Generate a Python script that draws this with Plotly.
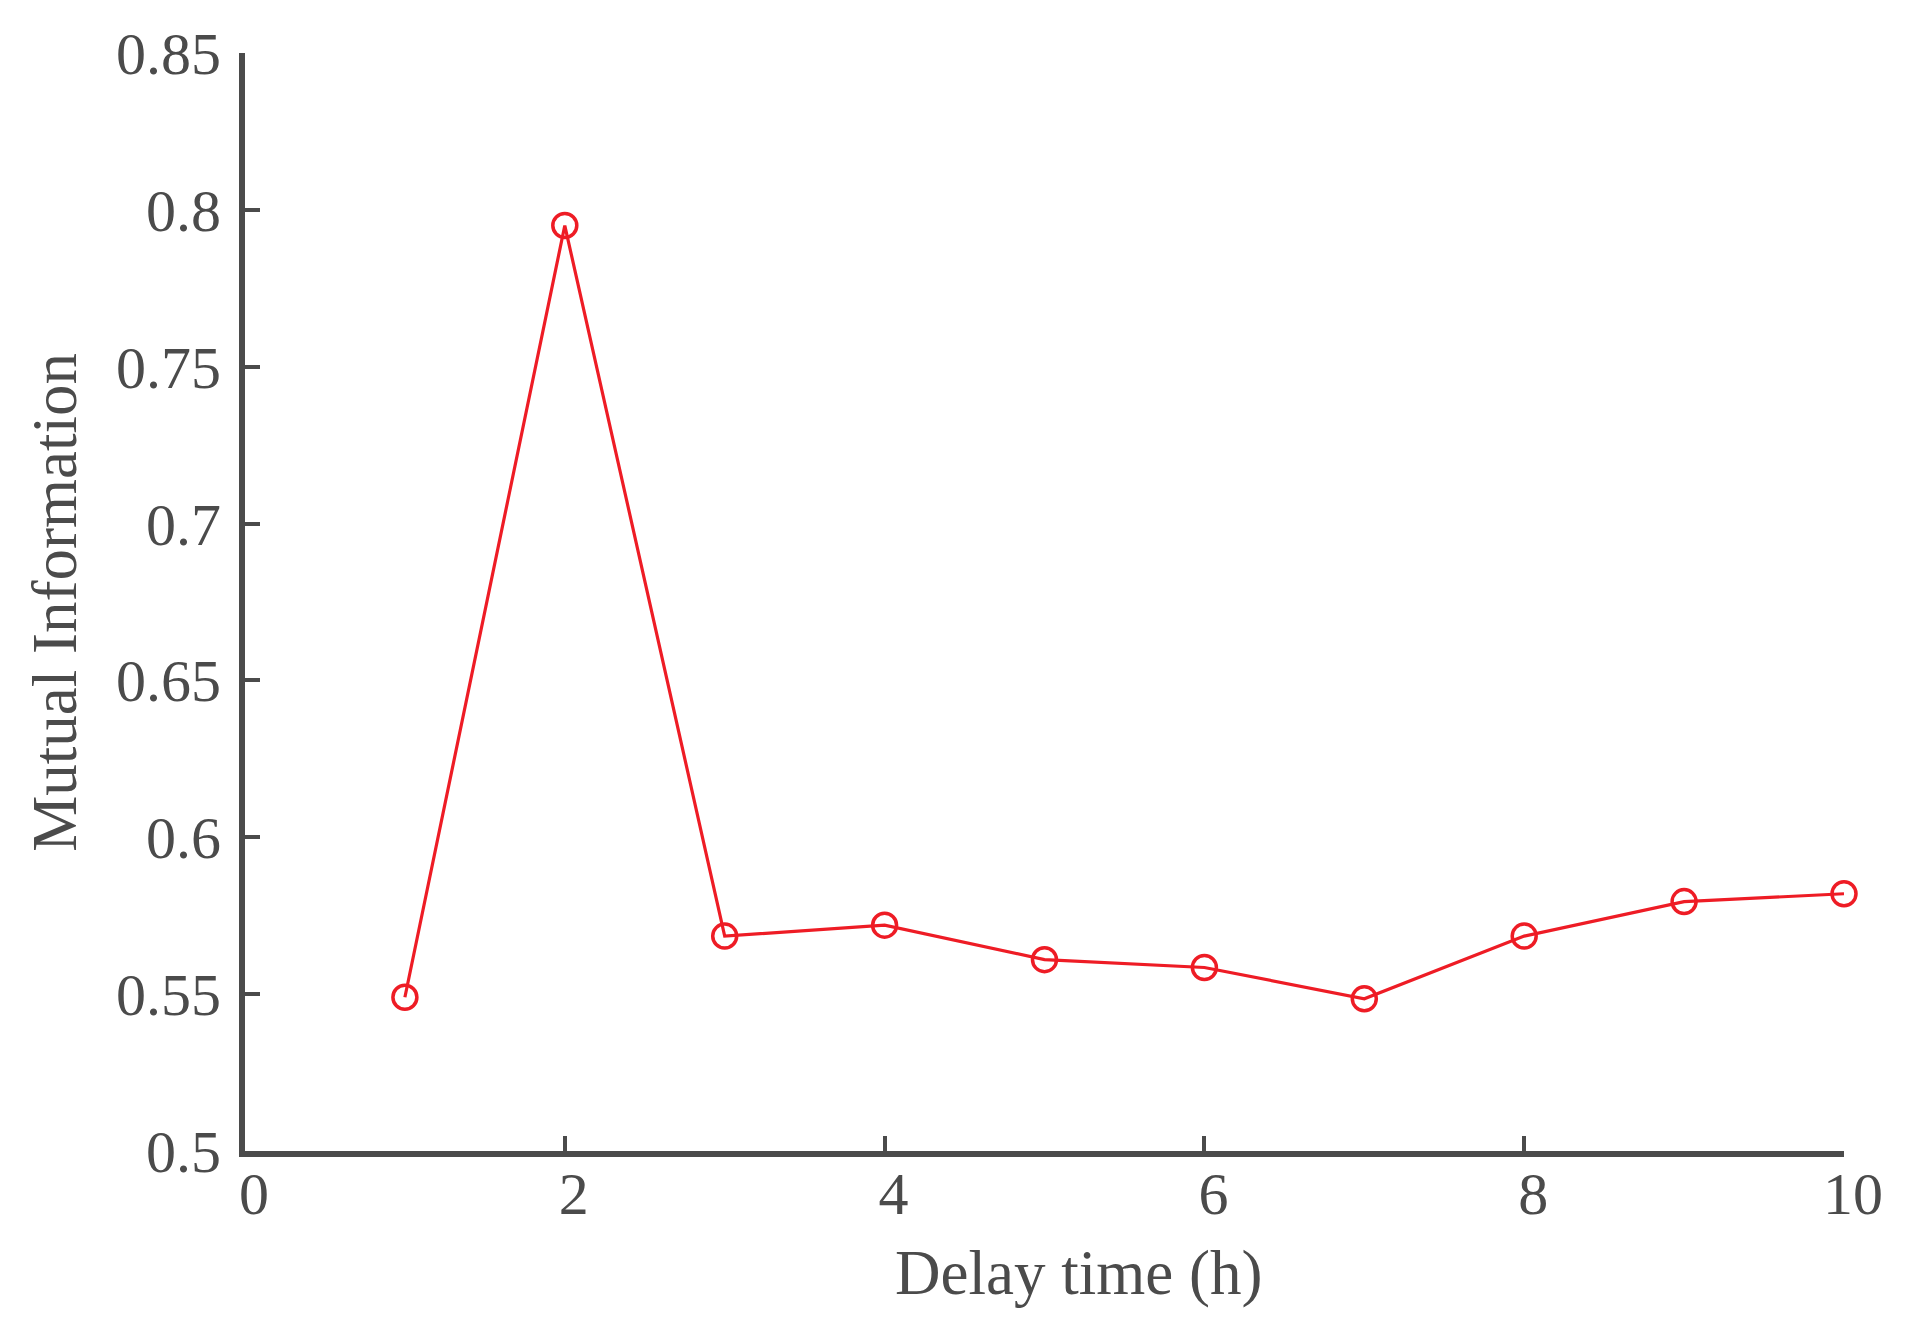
import plotly.graph_objects as go

delay_hours = [1, 2, 3, 4, 5, 6, 7, 8, 9, 10]
mutual_info = [0.549, 0.795, 0.5685, 0.572, 0.561, 0.5585, 0.5485, 0.5685, 0.5795, 0.582]

x_ticks = [0, 2, 4, 6, 8, 10]
x_tick_labels = ["0", "2", "4", "6", "8", "10"]
y_ticks = [0.5, 0.55, 0.6, 0.65, 0.7, 0.75, 0.8, 0.85]
y_tick_labels = ["0.5", "0.55", "0.6", "0.65", "0.7", "0.75", "0.8", "0.85"]

axis_color = "#4b4b4b"
red = "#ee1c25"
font_family = "Liberation Serif"

fig = go.Figure()
fig.add_trace(go.Scatter(
    x=delay_hours, y=mutual_info, mode="lines+markers",
    line=dict(color=red, width=3.2),
    marker=dict(symbol="circle-open", size=24, color=red, line=dict(color=red, width=3.5)),
    cliponaxis=False,
    showlegend=False,
))

fig.update_layout(
    width=1889, height=1312,
    margin=dict(l=237, r=53, t=45, b=169),
    paper_bgcolor="white", plot_bgcolor="white",
    font=dict(family=font_family, size=60, color=axis_color),
    xaxis=dict(
        range=[0, 10], tickvals=x_ticks, ticktext=x_tick_labels,
        showgrid=False, zeroline=False, showline=True, linecolor=axis_color, linewidth=6,
        ticks="inside", ticklen=15, tickwidth=4, tickcolor=axis_color,
        ticklabelstandoff=-15, ticklabelshift=9,
        tickfont=dict(family=font_family, size=60, color=axis_color),
    ),
    yaxis=dict(
        range=[0.5, 0.85], tickvals=y_ticks, ticktext=y_tick_labels,
        showgrid=False, zeroline=False, showline=True, linecolor=axis_color, linewidth=6,
        ticks="inside", ticklen=15, tickwidth=4, tickcolor=axis_color,
        ticklabelstandoff=6,
        tickfont=dict(family=font_family, size=60, color=axis_color),
    ),
    annotations=[
        dict(text="Delay time (h)", xref="paper", yref="paper",
             x=0.521, y=-0.111, xanchor="center", yanchor="middle", showarrow=False,
             font=dict(family=font_family, size=63, color=axis_color)),
        dict(text="Mutual Information", xref="paper", yref="paper",
             x=-0.119, y=0.5, xanchor="center", yanchor="middle", showarrow=False,
             textangle=-90,
             font=dict(family=font_family, size=63, color=axis_color)),
    ],
)

fig.write_html("out.html")
